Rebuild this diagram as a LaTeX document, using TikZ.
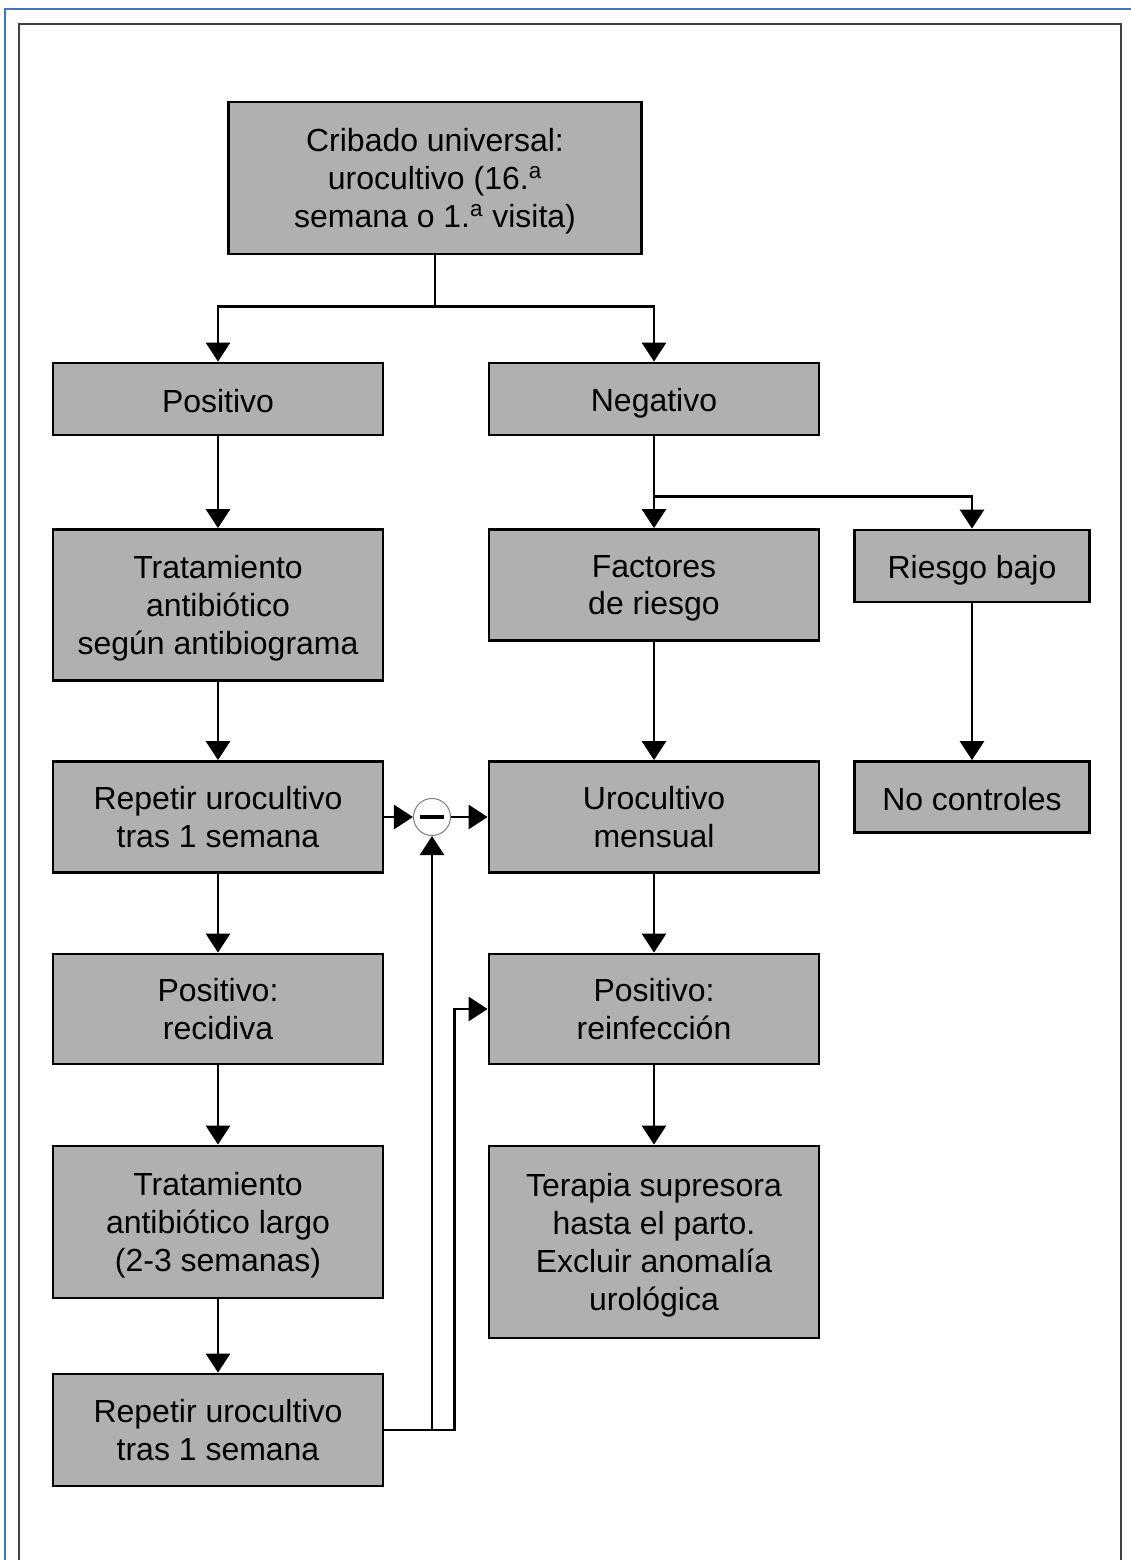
\documentclass[tikz,border=0pt]{standalone}
\usepackage{fontspec}
\setmainfont{Liberation Sans}
\usetikzlibrary{arrows.meta}
\usetikzlibrary{positioning}

\definecolor{boxgray}{RGB}{176,176,176}
\definecolor{frameblue}{RGB}{68,114,196}
\newcommand{\boxstrut}{\rule[-2pt]{0pt}{19.5pt}}

\begin{document}
\begin{tikzpicture}[
      x = 0.02cm, y = -0.02cm,
      >={Triangle[length=3.8mm, width=4.8mm]},
      box/.style = {
        draw = black, line width = 1.6pt, fill = boxgray,
        align = center, inner sep = 0pt,
        minimum width = 6.6cm,
        font = \fontsize{18.2}{21.5}\selectfont,
        execute at begin node = \boxstrut,
        execute at end node = \boxstrut
      },
      lines/.style = { text depth = -1.5pt },
      small/.style = { minimum width = 4.7cm },
      link/.style = { draw = black, line width = 1.6pt },
    ]

    \useasboundingbox (0,0) rectangle (1131,1560);

    % page frames
    \draw[frameblue, line width = 1.2pt] (5,1560) -- (5,9) -- (1131,9);
    \draw[black!75, line width = 1.4pt] (19,1560) -- (19,24) -- (1121,24) -- (1121,1560);

    \node[box, lines, minimum width = 8.26cm, minimum height = 3.04cm] (Crib) at (435,178)
      {Cribado universal:\\ urocultivo (16.\textsuperscript{a}\\ semana o 1.\textsuperscript{a} visita)};

    \node[box, minimum height = 1.44cm] (Pos) at (218,399) {Positivo};
    \node[box, minimum height = 1.44cm] (Neg) at (654,399) {Negativo};

    \node[box, lines, minimum height = 3.02cm] (Trat) at (218,605) {Tratamiento\\ antibiótico\\ según antibiograma};
    \node[box, lines, minimum height = 2.22cm] (Fac) at (654,585) {Factores\\ de riesgo};
    \node[box, small, minimum height = 1.44cm] (Rb) at (972,566) {Riesgo bajo};

    \node[box, lines, minimum height = 2.22cm] (Rep1) at (218,817) {Repetir urocultivo\\ tras 1 semana};
    \node[box, lines, minimum height = 2.22cm] (Uro) at (654,817) {Urocultivo\\ mensual};
    \node[box, small, minimum height = 1.42cm] (NoC) at (972,797) {No controles};

    \node[box, lines, minimum height = 2.2cm] (Rec) at (218,1009) {Positivo:\\ recidiva};
    \node[box, lines, minimum height = 2.2cm] (Rein) at (654,1009) {Positivo:\\ reinfección};

    \node[box, lines, minimum height = 3.04cm] (TLar) at (218,1222) {Tratamiento\\ antibiótico largo\\ (2-3 semanas)};
    \node[box, lines, minimum height = 3.84cm] (Ter) at (654,1242) {Terapia supresora\\ hasta el parto.\\ Excluir anomalía\\ urológica};

    \node[box, lines, minimum height = 2.24cm] (Rep2) at (218,1430) {Repetir urocultivo\\ tras 1 semana};

    \node[circle, draw = gray, line width = 0.6pt, minimum size = 0.74cm, inner sep = 0pt] (Min) at (432,817) {};
    \draw[line width = 2pt] ([xshift = -0.24cm]Min.center) -- ([xshift = 0.24cm]Min.center);

    % top split
    \draw[link] (Crib.south) -- ++(0,51) coordinate (S1);
    \draw[link, ->] (S1) -| (Pos.north);
    \draw[link, ->] (S1) -| (Neg.north);

    \draw[link] (Neg.south) -- ++(0,60) coordinate (S2);
    \draw[link, ->] (S2) -- (Fac.north);
    \draw[link, ->] (S2) -| (Rb.north);

    % left column
    \draw[link, ->] (Pos) -- (Trat);
    \draw[link, ->] (Trat) -- (Rep1);
    \draw[link, ->] (Rep1) -- (Rec);
    \draw[link, ->] (Rec) -- (TLar);
    \draw[link, ->] (TLar) -- (Rep2);

    % middle and right columns
    \draw[link, ->] (Fac) -- (Uro);
    \draw[link, ->] (Uro) -- (Rein);
    \draw[link, ->] (Rein) -- (Ter);
    \draw[link, ->] (Rb) -- (NoC);

    \draw[link, ->] (Rep1) -- (Min);
    \draw[link, ->] (Min) -- (Uro);

    % back from the second check
    \draw[link, ->] (Rep2.east) -- ++(70,0) |- (Rein.west);
    \draw[link, ->] (Min |- Rep2.east) -- (Min.south);
  \end{tikzpicture}
\end{document}
